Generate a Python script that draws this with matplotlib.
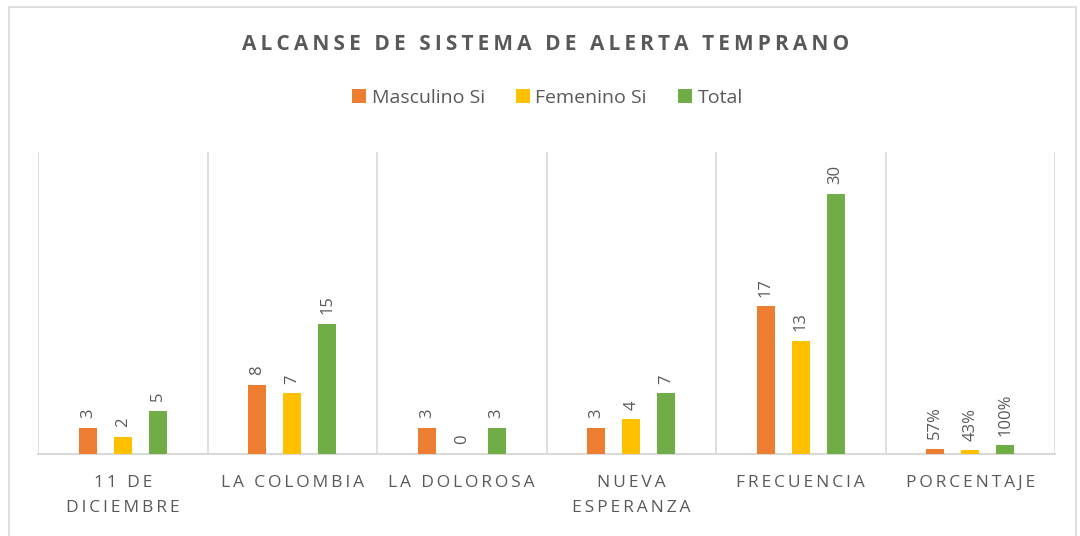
import numpy as np
import matplotlib.pyplot as plt
from matplotlib.patches import Rectangle

# Datos
categorias = ["11 DE\nDICIEMBRE", "LA COLOMBIA", "LA DOLOROSA", "NUEVA\nESPERANZA", "FRECUENCIA", "PORCENTAJE"]
masculino = [3, 8, 3, 3, 17, 0.57]
femenino = [2, 7, 0, 4, 13, 0.43]
total = [5, 15, 3, 7, 30, 1.00]
series = ["Masculino Si", "Femenino Si", "Total"]
titulo = "ALCANSE DE SISTEMA DE ALERTA TEMPRANO"

colores = ["#ED7D31", "#FFC000", "#70AD47"]
gris = "#595959"

plt.rcParams['font.family'] = ['Open Sans', 'DejaVu Sans']


def espaciar(s):
    # espaciado entre letras (como en Excel) con espacios finos
    return "\n".join("\u2009".join(linea) for linea in s.split("\n"))


fig = plt.figure(figsize=(10.8, 5.36), dpi=100)
ax = fig.add_axes([38/1080, 1 - 454/536, (1055 - 38)/1080, (454 - 152)/536])

x = np.arange(len(categorias))
ancho = 0.106
paso = 0.206


def etiqueta(v, i):
    if i == len(categorias) - 1:
        return f"{int(round(v * 100))}%"
    return f"{int(v)}"


for k, (vals, col, nom) in enumerate(zip([masculino, femenino, total], colores, series)):
    pos = x + (k - 1) * paso
    ax.bar(pos, vals, width=ancho, color=col, label=nom, edgecolor='none', zorder=3)
    for i, (p, v) in enumerate(zip(pos, vals)):
        ax.annotate(etiqueta(v, i), (p, v), xytext=(0, 7), textcoords='offset points',
                    rotation=90, ha='center', va='bottom', fontsize=12, color=gris)

ax.set_xlim(-0.5, len(categorias) - 0.5)
ax.set_ylim(0, 34.8)
for b in np.arange(-0.5, len(categorias), 1.0):
    ax.axvline(b, color="#D9D9D9", lw=1.2, zorder=1)

for s in ['top', 'right', 'left']:
    ax.spines[s].set_visible(False)
ax.spines['bottom'].set_color("#D9D9D9")
ax.spines['bottom'].set_linewidth(1.5)
ax.set_yticks([])
ax.set_xticks(x)
ax.set_xticklabels([espaciar(c) for c in categorias], fontsize=12.5, color=gris, linespacing=1.8)
ax.tick_params(axis='x', length=0, pad=15)

fig.text(0.505, 1 - 44/536, espaciar(titulo), ha='center', va='center',
         fontsize=15, fontweight='bold', color=gris)

fig.legend(loc='center', bbox_to_anchor=(0.507, 1 - 98/536), ncol=3, frameon=False,
           fontsize=14, handlelength=0.7, handleheight=0.7, handletextpad=0.3,
           columnspacing=1.6, labelcolor=gris)

# Marco del gráfico
fig.patches.append(Rectangle((9/1080, -0.05), (1076 - 9)/1080, 1.05 - 7/536, transform=fig.transFigure,
                             fill=False, edgecolor="#D9D9D9", lw=1.2))

plt.savefig("out.png", dpi=100)
